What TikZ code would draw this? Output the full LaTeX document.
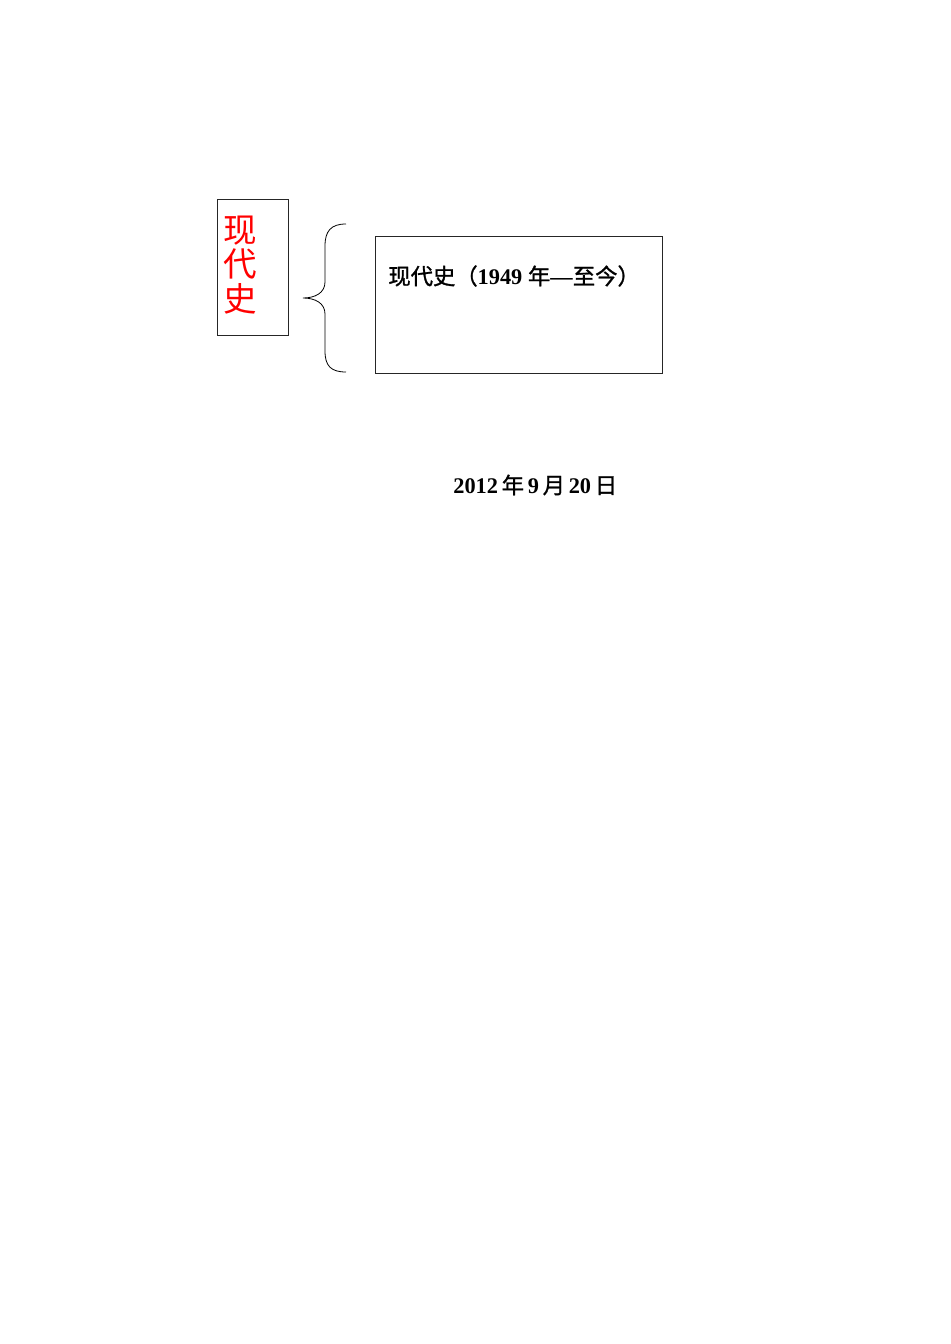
\documentclass[tikz,border=0pt]{standalone}
\usepackage{fontspec}
\setmainfont{Liberation Serif}
\newfontfamily\cjk{Noto Sans CJK SC}
\newfontfamily\cjkb[FakeBold=1.2]{Noto Sans CJK SC}
\begin{document}
\begin{tikzpicture}[x=0.6265pt, y=-0.6265pt,
    frame/.style={draw=black!85, line width=0.5pt, inner sep=0pt},
    label/.style={inner sep=0pt, anchor=west, font=\fontsize{14pt}{16pt}\selectfont}]
            \definecolor{cred}{HTML}{FF0000}
            \useasboundingbox (0,0) rectangle (950,1344);
            \node[frame, minimum width=44.5pt, minimum height=85.2pt] (era) at (252.5,267) {};
            \node[inner sep=0pt, text=cred, align=center, font=\cjk\fontsize{21pt}{21.5pt}\selectfont] (eraname) at (240,265) {现\\代\\史};
            \draw[line width=0.5pt] (346,224) .. controls (331,224) and (325,231) .. (325,246) -- (325,282)
                .. controls (325,293) and (315,298) .. (303,298)
                .. controls (315,298) and (325,303) .. (325,314) -- (325,351)
                .. controls (325,366) and (331,372) .. (346,372);
            \node[frame, minimum width=179.8pt, minimum height=85.8pt] (period) at (518.5,304.5) {};
            \node[label] (title) at (388,276) {{\cjkb 现代史（}\textbf{1949} {\cjkb 年}\textbf{—}{\cjkb 至今）}};
            \node[label] (date) at (453,485) {\textbf{2012}\,{\cjkb 年}\,\textbf{9}\,{\cjkb 月}\,\textbf{20}\,{\cjkb 日}};
        \end{tikzpicture}
\end{document}
